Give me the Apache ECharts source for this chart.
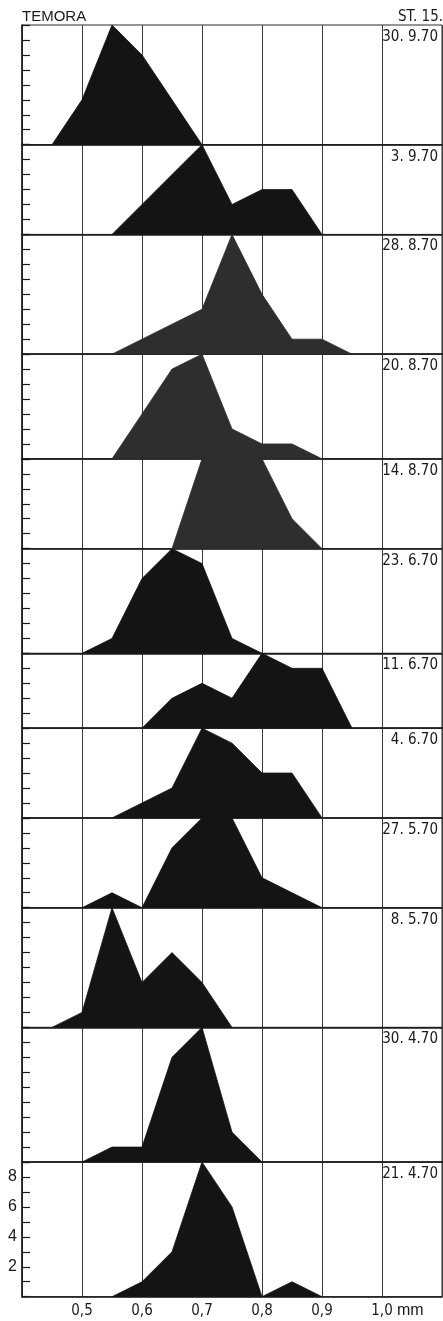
<!DOCTYPE html>
<html>
<head>
<meta charset="utf-8">
<script src="https://cdn.jsdelivr.net/npm/echarts@6/dist/echarts.min.js"></script>
<style>
  html, body { margin: 0; padding: 0; background: #fff; }
  #chart { width: 443px; height: 1321px; }
</style>
</head>
<body>
<div id="chart"></div>
<script>
// Size classes (mm) at which the frequency polygons are sampled
const sizeClasses = [0.45, 0.50, 0.55, 0.60, 0.65, 0.70, 0.75, 0.80, 0.85, 0.90, 0.95];

// Sampling dates, top panel first
const sampleDates = ['30. 9.70', '3. 9.70', '28. 8.70', '20. 8.70', '14. 8.70', '23. 6.70',
                     '11. 6.70', '4. 6.70', '27. 5.70', '8. 5.70', '30. 4.70', '21. 4.70'];

// Number of individuals per size class (null = outside the polygon)
const n300970 = [0, 3, 8, 6, 3, 0, null, null, null, null, null];
const n030970 = [null, null, 0, 2, 4, 6, 2, 3, 3, 0, null];
const n280870 = [null, null, 0, 1, 2, 3, 8, 4, 1, 1, 0];
const n200870 = [null, null, 0, 3, 6, 7, 2, 1, 1, 0, null];
const n140870 = [null, null, null, null, 0, 6, 6, 6, 2, 0, null];
const n230670 = [null, 0, 1, 5, 7, 6, 1, 0, null, null, null];
const n110670 = [null, null, null, 0, 2, 3, 2, 5, 4, 4, 0];
const n040670 = [null, null, 0, 1, 2, 6, 5, 3, 3, 0, null];
const n270570 = [null, 0, 1, 0, 4, 6, 6, 2, 1, 0, null];
const n080570 = [0, 1, 8, 3, 5, 3, 0, null, null, null, null];
const n300470 = [null, 0, 1, 1, 7, 9, 2, 0, null, null, null];
const n210470 = [null, null, 0, 1, 3, 9, 6, 0, 1, 0, null];

const panelCounts = [n300970, n030970, n280870, n200870, n140870, n230670,
                     n110670, n040670, n270570, n080570, n300470, n210470];

// Upper limit of each panel's count axis
const panelMax = [8, 6, 8, 7, 6, 7, 5, 6, 6, 8, 9, 9];

// Axis labels
const xTickValues = [0.5, 0.6, 0.7, 0.8, 0.9, 1.0];
const xTickLabels = ['0,5', '0,6', '0,7', '0,8', '0,9', '1,0'];
const yTickLabels = { 2: '2', 4: '4', 6: '6', 8: '8' };

// Panels drawn in a lighter shade
const greyPanels = [2, 3, 4];

const FONT = "'Liberation Sans Narrow', 'DejaVu Sans Condensed', 'Liberation Sans', sans-serif";
const WIDE_FONT = "'Liberation Sans', 'DejaVu Sans', sans-serif";
const INK = '#141414';

const chart = echarts.init(document.getElementById('chart'), null, { renderer: 'canvas' });

const plotTop = 25, plotBottom = 1296.7, plotLeft = 22, plotRight = 1;
const totalUnits = panelMax.reduce((a, b) => a + b, 0);
const unitPx = (plotBottom - plotTop) / totalUnits;

const grids = [], xAxes = [], yAxes = [], series = [], graphics = [];
let cursor = plotTop;
const last = panelMax.length - 1;

panelMax.forEach((maxVal, i) => {
  const h = maxVal * unitPx;
  grids.push({
    left: plotLeft, right: plotRight, top: cursor, height: h,
    show: true, borderColor: '#2a2a2a', borderWidth: 1, backgroundColor: 'transparent'
  });
  xAxes.push({
    type: 'value', gridIndex: i, min: 0.4, max: 1.1, interval: 0.1,
    axisLine: { show: true, onZero: false, lineStyle: { color: '#1a1a1a', width: 1.5 } },
    axisTick: { show: false },
    splitLine: { show: true, lineStyle: { color: '#3a3a3a', width: 1 } },
    axisLabel: i === last ? {
      show: true, customValues: xTickValues, margin: 7,
      fontFamily: FONT, fontSize: 15, color: '#1a1a1a',
      formatter: v => xTickLabels[xTickValues.findIndex(t => Math.abs(t - v) < 1e-6)] || ''
    } : { show: false }
  });
  yAxes.push({
    type: 'value', gridIndex: i, min: 0, max: maxVal, interval: 1,
    axisLine: { show: true, lineStyle: { color: '#1a1a1a', width: 1.5 } },
    axisTick: { show: true, inside: true, length: 8, lineStyle: { color: '#1a1a1a', width: 1.2 } },
    splitLine: { show: false },
    axisLabel: i === last ? {
      show: true, interval: 0, margin: 5, fontFamily: WIDE_FONT, fontSize: 16, color: '#1a1a1a',
      formatter: v => yTickLabels[v] || ''
    } : { show: false }
  });
  const fill = greyPanels.includes(i) ? '#2e2e2e' : INK;
  const pts = [];
  panelCounts[i].forEach((c, k) => { if (c !== null) pts.push([sizeClasses[k], c]); });
  series.push({
    type: 'line', xAxisIndex: i, yAxisIndex: i, data: pts,
    symbol: 'none', silent: true, z: 1,
    lineStyle: { color: fill, width: 0.8 },
    areaStyle: { color: fill, opacity: 1 }
  });
  graphics.push({
    type: 'text', x: 438, y: cursor + 12,
    style: { text: sampleDates[i], font: '15px ' + FONT, fill: '#1a1a1a', align: 'right', verticalAlign: 'middle' }
  });
  cursor += h;
});

graphics.push(
  { type: 'text', x: 22, y: 17, style: { text: 'TEMORA', font: '15px ' + WIDE_FONT, fill: '#1a1a1a', align: 'left', verticalAlign: 'middle' } },
  { type: 'text', x: 443, y: 17, style: { text: 'ST. 15.', font: '15px ' + FONT, fill: '#1a1a1a', align: 'right', verticalAlign: 'middle' } },
  { type: 'text', x: 397, y: plotBottom + 14, style: { text: 'mm', font: '16px ' + WIDE_FONT, fill: '#1a1a1a', align: 'left', verticalAlign: 'middle' } }
);

chart.setOption({
  animation: false,
  backgroundColor: '#fff',
  grid: grids,
  xAxis: xAxes,
  yAxis: yAxes,
  series: series,
  graphic: graphics
});
</script>
</body>
</html>
